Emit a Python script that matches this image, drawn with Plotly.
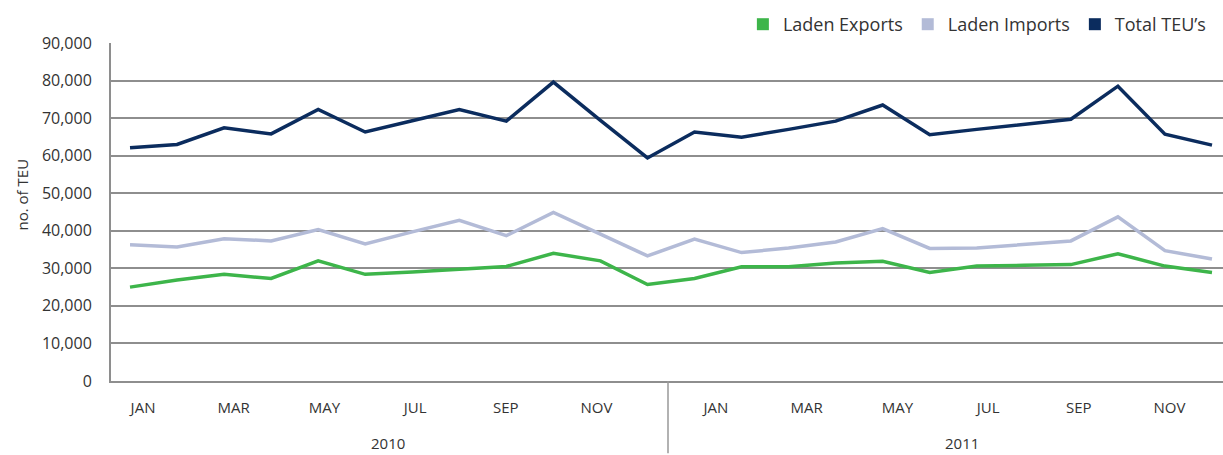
import plotly.graph_objects as go

# ---- data -------------------------------------------------------------
months = ["JAN", "FEB", "MAR", "APR", "MAY", "JUN",
          "JUL", "AUG", "SEP", "OCT", "NOV", "DEC"]
years = ["2010", "2011"]

laden_exports = [25000, 26900, 28400, 27300, 32000, 28400, 29000, 29700, 30500, 34000, 32000, 25700,
                 27300, 30400, 30400, 31400, 31900, 28900, 30600, 30800, 31000, 33900, 30600, 28900]
laden_imports = [36300, 35700, 37900, 37300, 40300, 36500, 39700, 42800, 38700, 44900, 39100, 33300,
                 37800, 34200, 35400, 37000, 40600, 35300, 35400, 36300, 37300, 43700, 34700, 32500]
total_teu = [62100, 63000, 67400, 65800, 72300, 66300, 69300, 72300, 69200, 79600, 69400, 59400,
             66300, 64900, 67000, 69200, 73500, 65600, 67000, 68300, 69700, 78500, 65700, 62800]

series_names = ["Laden Exports", "Laden Imports", "Total TEU\u2019s"]
series_values = [laden_exports, laden_imports, total_teu]
series_colors = ["#3DB54A", "#B3BBD7", "#0B2C5E"]

# ---- figure -----------------------------------------------------------
n = len(total_teu)
x_idx = list(range(n))
month_labels = [months[i % 12] for i in range(n)]

fig = go.Figure()
for name, vals, col in zip(series_names, series_values, series_colors):
    fig.add_trace(go.Scatter(x=x_idx, y=vals, mode="lines", name=name,
                             line=dict(color=col, width=3.5),
                             showlegend=False, hoverinfo="skip"))
# square legend keys
for name, col in zip(series_names, series_colors):
    fig.add_trace(go.Scatter(x=[None], y=[None], mode="markers", name=name,
                             marker=dict(symbol="square", size=15, color=col),
                             xaxis="x2", showlegend=True))

# category tick labels (every other month), 2011 block shifted like the original
year_shift = 0.635
tickvals = [i + (year_shift if i >= 12 else 0) for i in range(0, n, 2)]
ticktext = [month_labels[i] for i in range(0, n, 2)]

grid = "#8E8E8E"
txt = "#333333"
font_family = "Open Sans, DejaVu Sans, sans-serif"

fig.update_layout(
    width=1223, height=455,
    margin=dict(l=111, r=0, t=43, b=74),
    paper_bgcolor="white", plot_bgcolor="white",
    font=dict(family=font_family, color=txt, size=16),
    xaxis=dict(range=[-0.404, 23.234], showticklabels=False, showgrid=False,
               zeroline=False, showline=True, linecolor=grid, linewidth=2,
               ticks=""),
    xaxis2=dict(overlaying="x", anchor="y", side="bottom",
                range=[-0.706, 23.815], tickmode="array",
                tickvals=tickvals, ticktext=ticktext,
                showgrid=False, zeroline=False, showline=False, ticks="",
                ticklabelstandoff=16,
                tickfont=dict(family=font_family, size=15, color=txt)),
    yaxis=dict(range=[0, 90000], dtick=10000, tickformat=",",
               showgrid=True, gridcolor=grid, gridwidth=2,
               zeroline=False, showline=True, linecolor=grid, linewidth=2,
               ticks="", ticklabelstandoff=14,
               tickfont=dict(family=font_family, size=16, color=txt)),
    legend=dict(orientation="h", x=0.99, xanchor="right", y=1.0, yanchor="bottom",
                font=dict(family=font_family, size=18, color=txt),
                bgcolor="rgba(0,0,0,0)", itemsizing="constant"),
    showlegend=True,
)

# y-axis title
fig.add_annotation(text="no. of TEU", xref="paper", yref="paper",
                   x=-0.080, y=0.552, xanchor="center", yanchor="middle",
                   textangle=-90, showarrow=False,
                   font=dict(family=font_family, size=15, color=txt))
# year labels
for yr, xp in zip(years, [0.249, 0.765]):
    fig.add_annotation(text=yr, xref="paper", yref="paper", x=xp, y=-0.184,
                       xanchor="center", yanchor="middle", showarrow=False,
                       font=dict(family=font_family, size=15, color=txt))
# separator between years
fig.add_shape(type="line", xref="paper", yref="paper", x0=0.5009, x1=0.5009,
              y0=0, y1=-0.214, line=dict(color="#999999", width=1.5))

fig.write_html("out.html", config={"displayModeBar": False},
               post_script="document.body.style.margin='0px';")
